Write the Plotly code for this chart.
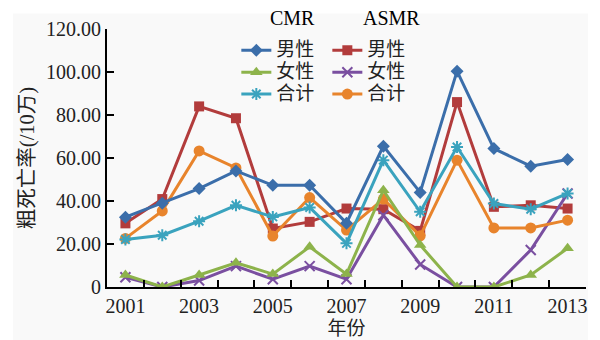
import plotly.graph_objects as go

years = [str(y) for y in range(2001, 2014)]
cmr_male = [32.5, 39.0, 45.8, 54.0, 47.3, 47.3, 29.7, 65.5, 44.0, 100.4, 64.4, 56.2, 59.3]
cmr_female = [5.6, 0.0, 5.6, 11.3, 6.0, 18.7, 6.0, 45.0, 19.5, 0.0, 0.0, 5.6, 18.0]
cmr_total = [22.1, 24.1, 30.6, 38.0, 32.6, 37.0, 20.3, 59.0, 35.0, 65.1, 38.8, 36.2, 43.5]
asmr_male = [29.6, 40.9, 84.0, 78.5, 27.2, 30.3, 36.5, 36.2, 26.1, 86.0, 37.3, 38.0, 36.5]
asmr_female = [4.5, 0.0, 3.0, 9.7, 3.6, 9.7, 3.6, 33.4, 10.5, 0.0, 0.0, 17.2, 43.5]
asmr_total = [22.6, 35.4, 63.3, 55.4, 23.7, 41.6, 26.5, 40.9, 23.8, 59.0, 27.5, 27.5, 31.1]

y_ticks = [0, 20, 40, 60, 80, 100, 120]
y_ticktext = ["0", "20.00", "40.00", "60.00", "80.00", "100.00", "120.00"]
# every year is a category; only odd years carry a label
x_ticktext = [y if int(y) % 2 == 1 else "" for y in years]

SERIF = "Liberation Serif"
FONT = "Liberation Serif, Noto Sans CJK SC, serif"
TXT = "#222222"

series = [
    ("男性", asmr_male, "#b23c3c", "square", 10, "legend2", 1),
    ("女性", asmr_female, "#7a4fa0", "x-thin-open", 10, "legend2", 2),
    ("合计", asmr_total, "#e8842c", "circle", 11, "legend2", 3),
    ("合计", cmr_total, "#3aa3be", "asterisk-open", 10, "legend", 3),
    ("女性", cmr_female, "#8db34b", "triangle-up", 11, "legend", 2),
    ("男性", cmr_male, "#3b6eaa", "diamond", 10, "legend", 1),
]

fig = go.Figure()
for name, vals, color, sym, size, leg, rank in series:
    fig.add_trace(go.Scatter(
        x=years, y=vals, name="<span style='font-size:19px'>" + name + "</span>",
        mode="lines+markers",
        line=dict(color=color, width=3),
        marker=dict(symbol=sym, size=size, color=color,
                    line=dict(color=color, width=2 if "open" in sym else 0)),
        legend=leg, legendrank=rank,
    ))

fig.update_layout(
    width=600, height=340,
    margin=dict(l=107, r=14, t=28.5, b=53, autoexpand=False),
    paper_bgcolor="white", plot_bgcolor="rgba(0,0,0,0)",
    font=dict(family=FONT, size=20, color=TXT),
    xaxis=dict(
        type="category", range=[-0.5, len(years) - 0.5],
        tickmode="array", tickvals=years, ticktext=x_ticktext, tickangle=0,
        tickson="boundaries", ticks="inside", ticklen=7, tickwidth=2, tickcolor="black",
        showgrid=False, zeroline=False,
        showline=True, linecolor="black", linewidth=2,
        tickfont=dict(size=20, family=SERIF, color=TXT),
        title=dict(text="年份", font=dict(size=19, family=FONT, color=TXT), standoff=6),
    ),
    yaxis=dict(
        range=[0, 120], tickmode="array", tickvals=y_ticks, ticktext=y_ticktext,
        ticks="inside", ticklen=7, tickwidth=2, tickcolor="black",
        showgrid=False, zeroline=False,
        showline=True, linecolor="black", linewidth=2,
        tickfont=dict(size=20, family=SERIF, color=TXT),
        title=dict(text="粗死亡率(/10万)", font=dict(size=20.5, family=FONT, color=TXT), standoff=6),
    ),
    legend=dict(
        x=0.27, y=0.979, xanchor="left", yanchor="top",
        bgcolor="rgba(0,0,0,0)", font=dict(size=14.5, family=FONT, color=TXT),
        itemwidth=30, tracegroupgap=0,
    ),
    legend2=dict(
        x=0.46, y=0.979, xanchor="left", yanchor="top",
        bgcolor="rgba(0,0,0,0)", font=dict(size=14.5, family=FONT, color=TXT),
        itemwidth=30, tracegroupgap=0,
    ),
    annotations=[
        dict(text="CMR", xref="paper", yref="paper", x=0.388, y=1.044,
             xanchor="center", yanchor="middle", showarrow=False,
             font=dict(size=20, family=SERIF, color="black")),
        dict(text="ASMR", xref="paper", yref="paper", x=0.594, y=1.044,
             xanchor="center", yanchor="middle", showarrow=False,
             font=dict(size=20, family=SERIF, color="black")),
    ],
    shapes=[dict(type="rect", xref="paper", yref="paper",
                 x0=-0.196, x1=1.004, y0=-0.205, y1=1.06,
                 fillcolor="#f9f9f9", line=dict(width=0), layer="below")],
)

fig.write_html("out.html", post_script="document.body.style.margin='0';",
               config={"displayModeBar": False})
